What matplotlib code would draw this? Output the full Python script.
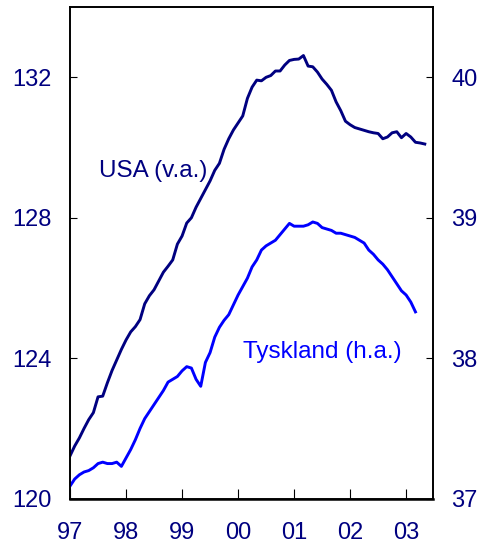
import numpy as np
import matplotlib
matplotlib.use("Agg")
import matplotlib.pyplot as plt

plt.rcParams['font.family'] = ['Liberation Sans', 'DejaVu Sans']

# Monatsdaten ab Jan 1997
usa = [121.22, 121.50, 121.73, 122.00, 122.25, 122.45, 122.90, 122.92, 123.30, 123.65,
       123.95, 124.25, 124.52, 124.75, 124.90, 125.10, 125.55, 125.78, 125.95, 126.20,
       126.45, 126.62, 126.80, 127.25, 127.48, 127.85, 128.00, 128.30, 128.55, 128.80,
       129.05, 129.35, 129.55, 129.95, 130.25, 130.50, 130.70, 130.90, 131.40, 131.72,
       131.92, 131.90, 132.00, 132.05, 132.18, 132.18, 132.35, 132.48, 132.51, 132.52,
       132.62, 132.32, 132.30, 132.15, 131.95, 131.80, 131.63, 131.30, 131.05, 130.75,
       130.65, 130.57, 130.53, 130.49, 130.45, 130.42, 130.40, 130.25, 130.30, 130.42,
       130.45, 130.28, 130.40, 130.30, 130.15, 130.13, 130.10]
tyskland = [37.09, 37.14, 37.17, 37.19, 37.20, 37.22, 37.25, 37.26, 37.25, 37.25,
            37.26, 37.23, 37.29, 37.35, 37.42, 37.50, 37.57, 37.62, 37.67, 37.72,
            37.77, 37.83, 37.85, 37.87, 37.91, 37.94, 37.93, 37.85, 37.80, 37.97,
            38.04, 38.15, 38.22, 38.27, 38.31, 38.38, 38.45, 38.51, 38.57, 38.65,
            38.70, 38.77, 38.80, 38.82, 38.84, 38.88, 38.92, 38.96, 38.94, 38.94,
            38.94, 38.95, 38.97, 38.96, 38.93, 38.92, 38.91, 38.89, 38.89, 38.88,
            38.87, 38.86, 38.84, 38.82, 38.77, 38.74, 38.70, 38.67, 38.63, 38.58,
            38.53, 38.48, 38.45, 38.40, 38.33]
years = [1997, 1998, 1999, 2000, 2001, 2002, 2003]
year_labels = ["97", "98", "99", "00", "01", "02", "03"]

x_usa = 1997 + np.arange(len(usa)) / 12
x_de = 1997 + np.arange(len(tyskland)) / 12

navy = "#000080"
blue = "#0000ff"

fig = plt.figure(figsize=(4.83, 5.45), dpi=100)
ax = fig.add_axes([0.145, 0.085, 0.7515, 0.902])
ax2 = ax.twinx()

ax.plot(x_usa, usa, color=navy, lw=2.1)
ax2.plot(x_de, tyskland, color=blue, lw=2.1)

ax.set_xlim(1997, 2003.48)
ax.set_ylim(120, 134)
ax2.set_ylim(37, 40.5)

ax.set_xticks(years)
ax.set_xticklabels(year_labels)
ax.set_yticks([120, 124, 128, 132])
ax2.set_yticks([37, 38, 39, 40])

ax.tick_params(axis='x', direction='in', length=7, pad=17, labelsize=17, labelcolor=navy)
ax.tick_params(axis='y', direction='in', length=5, pad=13, labelsize=17, labelcolor=navy)
ax2.tick_params(axis='y', direction='in', length=5, pad=13, labelsize=17, labelcolor=navy)

for a in (ax, ax2):
    for s in a.spines.values():
        s.set_linewidth(1.2)
ax.spines['bottom'].set_linewidth(1.8)

ax.text(1997.52, 129.33, "USA (v.a.)", color=navy, fontsize=17.5, va='center')
ax.text(2000.09, 124.19, "Tyskland (h.a.)", color=blue, fontsize=17.5, va='center')

fig.savefig("out.png", dpi=100)
